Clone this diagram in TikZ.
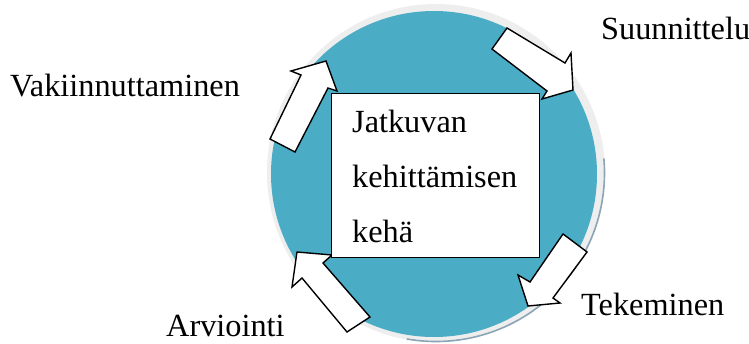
\documentclass[tikz,border=0pt]{standalone}
\usepackage{fontspec}
\setmainfont{Liberation Serif}
\begin{document}
\begin{tikzpicture}[x=1pt,y=-1pt,
  phaselabel/.style={inner sep=0pt, anchor=base west, font=\fontsize{32.3}{38}\selectfont},
  blockarrow/.style={fill=white, draw=black, line width=1.4pt, line join=miter},
  centerbox/.style={fill=white, draw=black, line width=1.3pt}]
  \useasboundingbox (0,0) rectangle (749,343);

  % ring with soft grey rim and a darker edge on the lower right
  \fill[gray!13] (436,173) circle[radius=169];
  \draw[color={rgb,255:red,140;green,165;blue,182}, line width=1.6pt]
    (436,173) ++(-5:168.5) arc[start angle=-5, end angle=100, radius=168.5];
  \fill[color={rgb,255:red,75;green,172;blue,198}] (434,174) circle[radius=163];

  % block arrows around the centre box
  \draw[blockarrow] (270,139) -- (301,75) -- (291,71) -- (326,61) -- (337,91) -- (328,88) -- (295,152) -- cycle;
  \draw[blockarrow] (492,49) -- (507,28) -- (565,63) -- (571,53) -- (573,90) -- (542,99) -- (547,91) -- cycle;
  \draw[blockarrow] (563,234) -- (587,252) -- (553,298) -- (560,303) -- (528,306) -- (518,275) -- (530,282) -- cycle;
  \draw[blockarrow] (347,332) -- (370,317) -- (323,263) -- (332,255) -- (297,252) -- (292,287) -- (302,278) -- cycle;

  % centre box
  \node[centerbox, anchor=north west, minimum width=208pt, minimum height=164pt, inner sep=0pt] (box) at (331,93) {};
  \node[phaselabel] (l1) at (352,132) {Jatkuvan};
  \node[phaselabel] (l2) at (352,187) {kehittämisen};
  \node[phaselabel] (l3) at (352,242) {kehä};

  % phase labels
  \node[phaselabel] (plan) at (601,39) {Suunnittelu};
  \node[phaselabel] (act) at (10,96) {Vakiinnuttaminen};
  \node[phaselabel] (do) at (581,315) {Tekeminen};
  \node[phaselabel] (check) at (166,336) {Arviointi};
\end{tikzpicture}
\end{document}
